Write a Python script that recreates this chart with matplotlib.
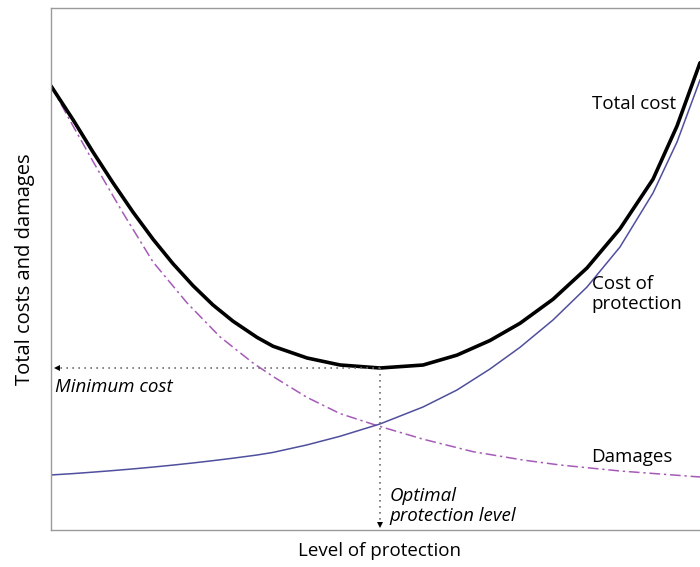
import matplotlib.pyplot as plt

# level of protection (arbitrary units, 0-100)
protection_level = [0, 3.39, 6.47, 9.55, 12.63, 15.72, 18.80, 21.88, 24.96,
                    28.04, 31.74, 34.21, 39.45, 44.53, 50.69, 57.32, 62.56,
                    67.64, 72.27, 77.35, 82.59, 87.67, 92.76, 96.46, 100]

total_cost = [85.06, 78.6, 72.4, 66.5, 60.9, 55.7, 51.0, 46.8, 43.1, 40.0,
              36.9, 35.2, 32.95, 31.61, 31.03, 31.6, 33.5, 36.3, 39.6, 44.2,
              50.2, 57.7, 67.2, 77.4, 89.5]
cost_of_protection = [10.54, 10.80, 11.08, 11.38, 11.70, 12.05, 12.43, 12.84,
                      13.28, 13.75, 14.36, 14.86, 16.3, 17.95, 20.31, 23.56,
                      26.82, 30.84, 35.0, 40.23, 46.55, 54.21, 64.56, 74.33,
                      86.21]

damage_level = [0, 3.39, 6.47, 9.55, 11.09, 15.72, 20.96, 26.04, 31.12, 34.21,
                39.45, 44.53, 50.23, 57.32, 65.02, 72.73, 78.43, 87.67, 100]
damages = [85.06, 77.4, 70.6, 64.0, 60.73, 51.34, 43.5, 37.0, 31.99, 29.4,
           25.4, 22.3, 20.0, 17.4, 15.0, 13.4, 12.45, 11.3, 10.15]

optimal_level = 50.69
minimum_cost = 31.0

plt.rcParams["font.family"] = ["Open Sans", "DejaVu Sans"]

fig = plt.figure(figsize=(7, 5.67), dpi=100)
ax = fig.add_axes([0.0729, 0.0653, 0.9271, 0.9206])

ax.plot(damage_level, damages, color="#a65ab8", lw=1.1,
        linestyle=(0, (7, 2.5, 1.5, 2.5)))
ax.plot(protection_level, cost_of_protection, color="#4f4f9e", lw=1.1)
ax.plot(protection_level, total_cost, color="black", lw=2.6,
        solid_capstyle="round", solid_joinstyle="round")

# dotted guides to the minimum
dot = dict(color="#6e6e6e", lw=1.2, linestyle=(0, (1, 2.6)))
ax.plot([optimal_level, 1.2], [minimum_cost, minimum_cost], **dot)
ax.plot([optimal_level, optimal_level], [minimum_cost, 1.2], **dot)
ax.plot(0.9, minimum_cost, marker="<", color="black", ms=5, mew=0)
ax.plot(optimal_level, 0.9, marker="v", color="black", ms=5, mew=0)

ax.set_xlim(0, 100)
ax.set_ylim(0, 100)
ax.set_xticks([])
ax.set_yticks([])
for side in ("left", "top", "bottom"):
    ax.spines[side].set_color("#9a9a9a")
    ax.spines[side].set_linewidth(1.0)
ax.spines["right"].set_visible(False)

fs = 13.5
ax.text(96.3, 81.6, "Total cost", ha="right", va="center", fontsize=fs)
ax.text(83.3, 45.2, "Cost of\nprotection", ha="left", va="center",
        fontsize=fs, linespacing=1.2)
ax.text(83.3, 14.0, "Damages", ha="left", va="center", fontsize=fs)
ax.text(0.6, 27.4, "Minimum cost", ha="left", va="center", fontsize=fs,
        style="italic")
ax.text(52.2, 4.6, "Optimal\nprotection level", ha="left", va="center",
        fontsize=fs, style="italic", linespacing=1.2)

ax.set_xlabel("Level of protection", fontsize=fs, va="center")
ax.set_ylabel("Total costs and damages", fontsize=14.5, va="center")
ax.xaxis.set_label_coords(optimal_level / 100, -0.041)
ax.yaxis.set_label_coords(-0.040, 0.5)

fig.savefig("out.png", dpi=100)
